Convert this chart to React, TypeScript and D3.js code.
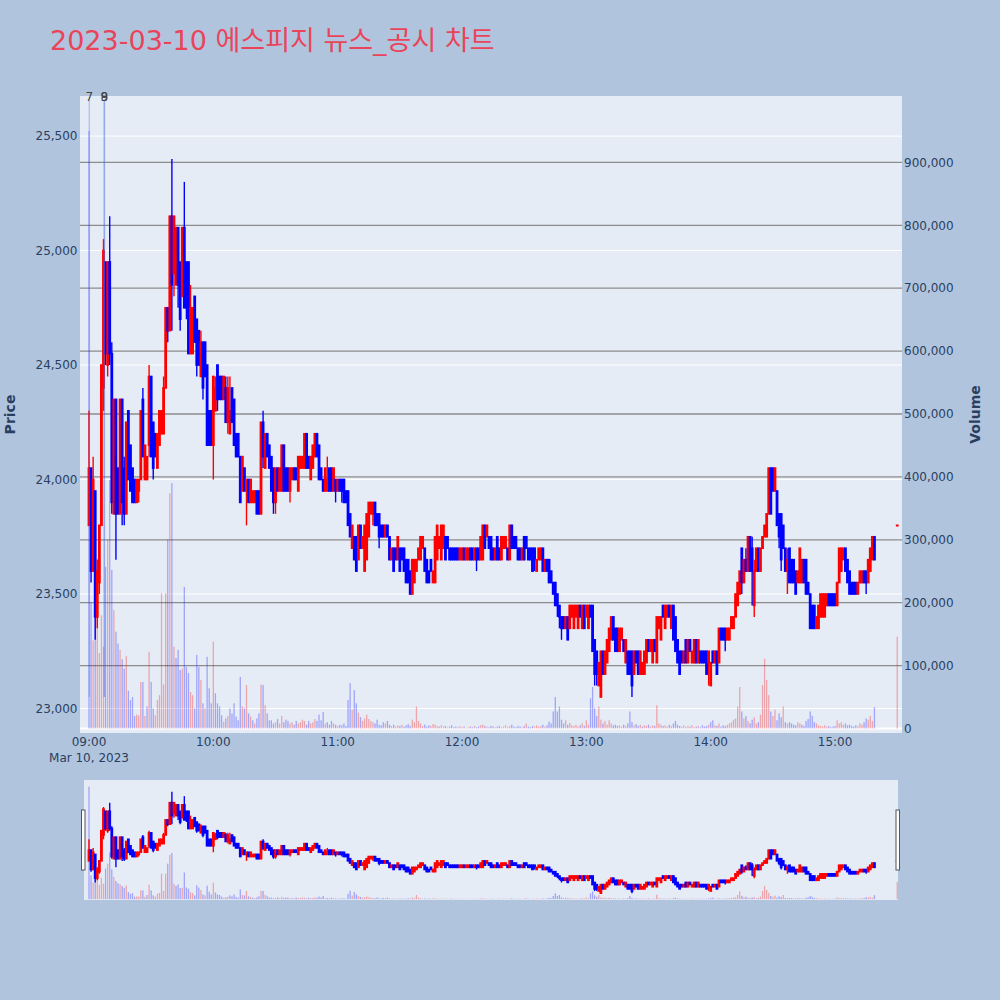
import React from "react";
import * as d3 from "d3";

// ---------- DATA (1-minute candles, 2023-03-10, 09:00 .. 15:19, plus 15:30 close) ----------
const startMinutes = d3.range(380);
const closingAuctionMinute = 390;
const candleMinutes = startMinutes.concat([closingAuctionMinute]);

const opens = [
  23800, 24050, 23600, 23950, 23400, 23550, 23800, 24400, 24950, 24500,
  24950, 24550, 23850, 24350, 24050, 23850, 24350, 24050, 23850, 24300,
  24150, 24050, 24000, 23900, 23950, 24000, 24350, 24000, 24000, 24150,
  24450, 24250, 24200, 24050, 24150, 24200, 24200, 24400, 24750, 24650,
  25150, 24900, 24850, 25100, 24950, 24800, 25100, 24950, 24950, 24550,
  24550, 24800, 24700, 24650, 24450, 24600, 24600, 24500, 24300, 24300,
  24150, 24300, 24500, 24450, 24450, 24350, 24400, 24250, 24200, 24400,
  24350, 24200, 24200, 24100, 23950, 24050, 23950, 24000, 23900, 23900,
  23900, 23950, 23950, 23850, 24250, 24050, 24200, 24150, 24100, 24050,
  23900, 24050, 23950, 23950, 24150, 24050, 24050, 23950, 24000, 24050,
  24050, 23950, 24050, 24050, 24050, 24200, 24100, 24000, 24050, 24100,
  24200, 24150, 24050, 24000, 23950, 23950, 24050, 24050, 23950, 24000,
  23950, 24000, 24000, 24000, 23950, 23950, 23850, 23700, 23750, 23750,
  23650, 23800, 23700, 23600, 23650, 23750, 23850, 23850, 23900, 23850,
  23850, 23800, 23800, 23750, 23800, 23750, 23650, 23700, 23700, 23650,
  23700, 23700, 23700, 23650, 23650, 23600, 23500, 23550, 23600, 23650,
  23650, 23700, 23700, 23650, 23600, 23650, 23550, 23550, 23650, 23700,
  23650, 23700, 23750, 23750, 23700, 23700, 23700, 23700, 23700, 23650,
  23650, 23700, 23650, 23650, 23700, 23700, 23650, 23700, 23700, 23650,
  23650, 23800, 23750, 23750, 23750, 23700, 23650, 23750, 23700, 23650,
  23700, 23700, 23700, 23650, 23800, 23750, 23750, 23700, 23700, 23650,
  23750, 23750, 23700, 23700, 23700, 23700, 23600, 23650, 23650, 23700,
  23600, 23650, 23650, 23600, 23550, 23550, 23500, 23450, 23400, 23400,
  23350, 23400, 23350, 23400, 23350, 23400, 23350, 23450, 23350, 23450,
  23400, 23350, 23450, 23450, 23300, 23250, 23100, 23050, 23250, 23150,
  23200, 23250, 23300, 23400, 23350, 23350, 23250, 23300, 23300, 23200,
  23250, 23250, 23250, 23150, 23250, 23250, 23150, 23150, 23150, 23200,
  23300, 23250, 23200, 23300, 23200, 23350, 23300, 23450, 23350, 23400,
  23450, 23350, 23450, 23400, 23300, 23250, 23250, 23200, 23300, 23200,
  23300, 23200, 23200, 23300, 23200, 23250, 23250, 23250, 23250, 23200,
  23100, 23250, 23200, 23250, 23200, 23350, 23350, 23350, 23300, 23300,
  23350, 23350, 23400, 23450, 23500, 23700, 23550, 23650, 23600, 23750,
  23700, 23450, 23600, 23700, 23600, 23700, 23750, 23750, 23850, 24050,
  24050, 23950, 23950, 23850, 23850, 23800, 23700, 23600, 23700, 23650,
  23650, 23600, 23550, 23550, 23550, 23650, 23650, 23550, 23500, 23450,
  23450, 23350, 23350, 23400, 23400, 23400, 23450, 23500, 23500, 23500,
  23500, 23450, 23550, 23600, 23650, 23700, 23650, 23600, 23550, 23550,
  23550, 23500, 23550, 23550, 23600, 23600, 23550, 23600, 23650, 23750,
  23800,
];

const highs = [
  24300, 24050, 24100, 23950, 23650, 23800, 24500, 25050, 24950, 24950,
  25150, 24600, 24350, 24350, 24050, 24350, 24350, 24100, 24250, 24300,
  24150, 24050, 24000, 24000, 24000, 24300, 24400, 24150, 24100, 24500,
  24450, 24250, 24200, 24200, 24300, 24300, 24450, 24750, 24750, 25150,
  25400, 25150, 25100, 25100, 24950, 25100, 25300, 24950, 24950, 24850,
  24750, 24800, 24700, 24650, 24650, 24600, 24600, 24500, 24300, 24300,
  24450, 24450, 24500, 24450, 24450, 24450, 24450, 24450, 24450, 24400,
  24350, 24200, 24200, 24100, 24100, 24050, 24000, 24000, 24000, 23950,
  23950, 23950, 23950, 24250, 24300, 24200, 24200, 24150, 24100, 24050,
  24050, 24050, 24050, 24150, 24150, 24050, 24050, 24050, 24050, 24050,
  24050, 24100, 24100, 24100, 24200, 24200, 24100, 24100, 24150, 24200,
  24200, 24150, 24050, 24000, 24050, 24100, 24050, 24050, 24050, 24000,
  24000, 24000, 24000, 24000, 23950, 23950, 23850, 23800, 23750, 23750,
  23800, 23800, 23750, 23800, 23850, 23900, 23900, 23900, 23900, 23850,
  23850, 23800, 23800, 23800, 23800, 23750, 23700, 23700, 23700, 23750,
  23700, 23700, 23700, 23650, 23650, 23600, 23650, 23650, 23650, 23700,
  23750, 23750, 23700, 23650, 23600, 23650, 23600, 23750, 23800, 23750,
  23800, 23800, 23750, 23750, 23700, 23700, 23700, 23700, 23700, 23700,
  23700, 23700, 23700, 23700, 23700, 23700, 23700, 23700, 23700, 23750,
  23800, 23800, 23800, 23750, 23750, 23700, 23700, 23750, 23700, 23750,
  23750, 23750, 23700, 23800, 23800, 23750, 23750, 23700, 23700, 23700,
  23750, 23750, 23700, 23700, 23700, 23700, 23650, 23700, 23700, 23700,
  23650, 23650, 23650, 23600, 23550, 23550, 23500, 23450, 23400, 23400,
  23400, 23400, 23450, 23450, 23450, 23450, 23450, 23450, 23450, 23450,
  23450, 23450, 23450, 23450, 23300, 23250, 23200, 23250, 23250, 23250,
  23300, 23350, 23400, 23400, 23350, 23350, 23350, 23350, 23300, 23300,
  23250, 23250, 23250, 23250, 23250, 23250, 23250, 23200, 23250, 23300,
  23300, 23300, 23300, 23300, 23400, 23400, 23400, 23450, 23450, 23450,
  23450, 23450, 23450, 23400, 23300, 23250, 23250, 23250, 23300, 23300,
  23300, 23250, 23300, 23300, 23300, 23250, 23250, 23250, 23250, 23250,
  23200, 23250, 23250, 23250, 23350, 23350, 23350, 23350, 23350, 23350,
  23400, 23400, 23500, 23550, 23600, 23700, 23650, 23700, 23750, 23750,
  23750, 23650, 23700, 23700, 23700, 23750, 23800, 23850, 24050, 24050,
  24050, 24050, 23950, 23850, 23850, 23800, 23700, 23700, 23700, 23650,
  23650, 23600, 23600, 23700, 23650, 23650, 23650, 23550, 23500, 23450,
  23450, 23400, 23450, 23500, 23500, 23500, 23500, 23500, 23500, 23500,
  23500, 23550, 23700, 23700, 23700, 23700, 23650, 23600, 23550, 23550,
  23550, 23550, 23600, 23600, 23600, 23600, 23650, 23700, 23750, 23750,
  23800,
];

const lows = [
  23800, 23550, 23600, 23300, 23350, 23500, 23800, 24300, 24500, 24450,
  24500, 23850, 23850, 23650, 23850, 23850, 23800, 23800, 23850, 24000,
  23950, 23900, 23900, 23900, 23900, 24000, 24100, 24000, 24000, 24100,
  24100, 24000, 24100, 24050, 24150, 24200, 24200, 24400, 24600, 24650,
  24650, 24800, 24850, 24750, 24650, 24800, 24750, 24700, 24550, 24550,
  24550, 24600, 24450, 24500, 24450, 24350, 24450, 24150, 24150, 24150,
  24000, 24300, 24300, 24350, 24350, 24350, 24250, 24200, 24200, 24250,
  24150, 24100, 24100, 23900, 23950, 23950, 23800, 23900, 23900, 23900,
  23900, 23850, 23850, 23850, 24050, 24050, 24100, 24050, 23950, 23850,
  23850, 23950, 23950, 23950, 23950, 23950, 23950, 23900, 24000, 24000,
  24000, 23950, 24050, 24050, 24050, 24050, 24050, 24000, 24050, 24100,
  24100, 24000, 24000, 23950, 23950, 23950, 23950, 23950, 23950, 23900,
  23950, 23950, 23900, 23900, 23900, 23800, 23750, 23700, 23650, 23600,
  23650, 23700, 23700, 23600, 23650, 23750, 23850, 23800, 23800, 23800,
  23700, 23750, 23750, 23750, 23750, 23650, 23650, 23600, 23650, 23650,
  23600, 23650, 23600, 23550, 23550, 23500, 23500, 23550, 23600, 23650,
  23650, 23700, 23600, 23550, 23550, 23600, 23550, 23550, 23650, 23700,
  23650, 23700, 23650, 23700, 23650, 23650, 23650, 23650, 23650, 23650,
  23650, 23650, 23650, 23650, 23650, 23650, 23650, 23600, 23650, 23650,
  23650, 23700, 23750, 23700, 23650, 23650, 23650, 23650, 23650, 23650,
  23700, 23700, 23650, 23650, 23700, 23700, 23700, 23650, 23650, 23650,
  23650, 23700, 23650, 23650, 23600, 23600, 23600, 23650, 23650, 23600,
  23600, 23600, 23550, 23550, 23500, 23450, 23400, 23350, 23300, 23350,
  23350, 23300, 23350, 23400, 23350, 23400, 23350, 23400, 23350, 23350,
  23400, 23350, 23400, 23250, 23100, 23100, 23100, 23050, 23150, 23150,
  23200, 23250, 23300, 23300, 23250, 23250, 23250, 23300, 23250, 23200,
  23150, 23150, 23050, 23150, 23200, 23150, 23150, 23150, 23150, 23200,
  23250, 23250, 23200, 23250, 23200, 23350, 23300, 23400, 23350, 23400,
  23400, 23350, 23300, 23250, 23200, 23150, 23200, 23200, 23200, 23200,
  23250, 23200, 23200, 23200, 23200, 23200, 23200, 23200, 23150, 23100,
  23100, 23200, 23200, 23150, 23200, 23300, 23300, 23250, 23300, 23300,
  23350, 23350, 23400, 23450, 23500, 23500, 23550, 23600, 23600, 23600,
  23450, 23400, 23600, 23600, 23600, 23700, 23750, 23750, 23850, 23850,
  23950, 23950, 23800, 23700, 23600, 23700, 23600, 23500, 23550, 23550,
  23550, 23500, 23550, 23550, 23550, 23550, 23500, 23500, 23350, 23350,
  23350, 23350, 23350, 23400, 23400, 23400, 23450, 23450, 23450, 23450,
  23450, 23450, 23550, 23600, 23650, 23600, 23550, 23500, 23500, 23500,
  23500, 23500, 23550, 23550, 23550, 23500, 23550, 23600, 23650, 23650,
  23800,
];

const closes = [
  24050, 23600, 24000, 23400, 23600, 23800, 24500, 25000, 24550, 24950,
  24550, 23900, 24350, 23850, 23850, 24350, 23900, 23850, 24250, 24000,
  23950, 23900, 23900, 24000, 24000, 24300, 24100, 24150, 24100, 24450,
  24100, 24050, 24100, 24200, 24300, 24300, 24400, 24750, 24650, 25150,
  24850, 25150, 25100, 24850, 24700, 25100, 24750, 24750, 24550, 24750,
  24750, 24600, 24500, 24500, 24600, 24400, 24450, 24150, 24150, 24150,
  24450, 24400, 24350, 24350, 24350, 24450, 24250, 24400, 24300, 24250,
  24150, 24100, 24100, 23900, 24100, 23950, 24000, 23900, 24000, 23950,
  23950, 23850, 23850, 24250, 24100, 24200, 24100, 24050, 23950, 23900,
  24050, 23950, 24050, 24150, 23950, 23950, 23950, 24050, 24050, 24000,
  24000, 24100, 24100, 24100, 24200, 24050, 24050, 24100, 24150, 24200,
  24100, 24000, 24000, 23950, 24050, 24000, 23950, 23950, 24050, 23950,
  24000, 23950, 23950, 23900, 23900, 23800, 23750, 23800, 23650, 23600,
  23800, 23700, 23750, 23800, 23850, 23900, 23900, 23900, 23800, 23800,
  23750, 23750, 23750, 23800, 23750, 23650, 23700, 23600, 23650, 23750,
  23600, 23650, 23600, 23550, 23550, 23500, 23650, 23650, 23650, 23700,
  23750, 23750, 23600, 23550, 23550, 23600, 23600, 23750, 23800, 23750,
  23800, 23800, 23650, 23700, 23650, 23650, 23650, 23650, 23650, 23700,
  23700, 23650, 23700, 23700, 23650, 23650, 23700, 23650, 23650, 23750,
  23800, 23700, 23800, 23700, 23650, 23650, 23700, 23650, 23650, 23750,
  23750, 23750, 23650, 23800, 23700, 23700, 23700, 23650, 23650, 23700,
  23650, 23700, 23650, 23650, 23600, 23650, 23650, 23700, 23700, 23600,
  23650, 23600, 23550, 23550, 23500, 23450, 23450, 23400, 23350, 23350,
  23400, 23300, 23450, 23450, 23450, 23450, 23450, 23400, 23450, 23350,
  23450, 23450, 23400, 23250, 23150, 23150, 23200, 23250, 23150, 23250,
  23300, 23350, 23400, 23300, 23250, 23250, 23350, 23350, 23250, 23300,
  23150, 23150, 23100, 23250, 23200, 23150, 23250, 23200, 23250, 23300,
  23250, 23300, 23300, 23250, 23400, 23400, 23400, 23400, 23450, 23450,
  23400, 23450, 23300, 23250, 23200, 23150, 23200, 23250, 23200, 23300,
  23250, 23250, 23300, 23200, 23300, 23200, 23200, 23200, 23150, 23250,
  23200, 23200, 23250, 23150, 23350, 23300, 23300, 23300, 23350, 23350,
  23400, 23400, 23500, 23550, 23600, 23550, 23650, 23600, 23750, 23600,
  23600, 23600, 23700, 23600, 23700, 23750, 23800, 23850, 24050, 23850,
  23950, 24050, 23800, 23750, 23650, 23700, 23600, 23650, 23550, 23550,
  23550, 23500, 23600, 23700, 23650, 23550, 23500, 23500, 23350, 23350,
  23350, 23400, 23450, 23500, 23500, 23500, 23500, 23450, 23450, 23450,
  23450, 23550, 23700, 23700, 23700, 23600, 23550, 23500, 23500, 23500,
  23500, 23550, 23600, 23600, 23550, 23550, 23650, 23700, 23750, 23650,
  23800,
];

// volume in thousands of shares
const volumesK = [
  950, 200, 140, 275, 270, 120, 180, 130, 257, 300,
  395, 252, 188, 154, 135, 125, 110, 95, 115, 60,
  45, 50, 20, 22, 21, 74, 74, 20, 35, 122,
  74, 32, 21, 45, 53, 215, 70, 215, 300, 374,
  390, 130, 112, 125, 93, 95, 225, 98, 88, 58,
  53, 32, 117, 98, 77, 40, 32, 114, 64, 40,
  138, 56, 40, 35, 21, 11, 16, 20, 32, 24,
  40, 19, 13, 82, 35, 32, 69, 24, 19, 13,
  8, 16, 24, 70, 69, 37, 24, 13, 13, 8,
  10, 15, 8, 20, 10, 14, 12, 8, 10, 6,
  12, 8, 10, 14, 12, 6, 12, 8, 10, 15,
  12, 22, 13, 26, 8, 10, 6, 12, 8, 6,
  4, 6, 5, 8, 4, 45, 72, 30, 61, 40,
  25, 18, 12, 16, 22, 15, 12, 10, 8, 14,
  6, 5, 10, 8, 12, 6, 4, 6, 3, 5,
  4, 6, 3, 5, 7, 4, 14, 10, 35, 12,
  8, 4, 6, 3, 5, 4, 7, 6, 4, 3,
  5, 3, 4, 2, 3, 5, 2, 3, 2, 4,
  2, 3, 1, 2, 3, 2, 4, 2, 3, 5,
  6, 4, 3, 2, 4, 3, 2, 3, 4, 2,
  3, 5, 2, 4, 6, 3, 2, 4, 3, 2,
  4, 8, 3, 2, 4, 3, 5, 3, 4, 6,
  3, 5, 11, 8, 27, 50, 27, 35, 14, 8,
  13, 6, 9, 5, 4, 6, 3, 5, 8, 4,
  13, 6, 48, 66, 32, 20, 35, 14, 8, 12,
  6, 13, 8, 5, 6, 4, 5, 3, 6, 4,
  8, 27, 10, 5, 7, 4, 6, 3, 5, 4,
  6, 3, 5, 4, 37, 8, 6, 4, 5, 3,
  6, 4, 8, 12, 6, 4, 3, 5, 2, 4,
  3, 5, 2, 3, 4, 2, 5, 3, 4, 6,
  10, 13, 5, 4, 8, 3, 5, 4, 6, 8,
  10, 14, 16, 35, 66, 27, 16, 20, 12, 8,
  14, 18, 8, 10, 22, 69, 111, 77, 53, 27,
  20, 30, 13, 24, 18, 35, 10, 8, 10, 8,
  6, 5, 10, 8, 6, 4, 12, 15, 27, 20,
  10, 8, 5, 4, 3, 5, 3, 4, 2, 3,
  4, 13, 8, 10, 6, 8, 5, 6, 4, 3,
  5, 4, 8, 6, 10, 16, 14, 20, 12, 34,
  146,
];

const priceTicks = [23000, 23500, 24000, 24500, 25000, 25500];
const volumeTicks = [0, 100000, 200000, 300000, 400000, 500000, 600000, 700000, 800000, 900000];
const timeTickLabels = ["09:00", "10:00", "11:00", "12:00", "13:00", "14:00", "15:00"];
const timeTickMinutes = [0, 60, 120, 180, 240, 300, 360];
const dateLabel = "Mar 10, 2023";

const newsLabels = ["7", "8", "9"];
const newsMinutes = [0.15, 7.4, 7.4];

const titleText = "2023-03-10 에스피지 뉴스_공시 차트";

// ---------- LAYOUT ----------
const PAPER = "#b0c4de";
const PLOT_BG = "#e5ecf6";
const INC = "#ff0000";
const DEC = "#0000ff";
const INC_VOL = "rgba(255,0,0,0.3)";
const DEC_VOL = "rgba(0,0,255,0.3)";
const TICK_COLOR = "#2a3f5f";
const FONT = "'DejaVu Sans', Verdana, 'Noto Sans CJK KR', sans-serif";

const plot = { left: 80, right: 902, top: 96, bottom: 733 };
const slider = { left: 84, right: 898, top: 780, bottom: 900 };

const xDomain: [number, number] = [-4.34, 392.3];
const priceDomain: [number, number] = [22893, 25675];
const volDomain: [number, number] = [-7200, 1005600];

function isIncreasing(i: number): boolean {
  if (closes[i] > opens[i]) return true;
  if (closes[i] < opens[i]) return false;
  return i > 0 ? closes[i] >= closes[i - 1] : true;
}

function volumeColor(i: number): string {
  if (i === 0) return DEC_VOL;
  if (closes[i] > closes[i - 1]) return INC_VOL;
  if (closes[i] < closes[i - 1]) return DEC_VOL;
  return isIncreasing(i) ? INC_VOL : DEC_VOL;
}

type Lin = d3.ScaleLinear<number, number>;

function Traces({ x, yP, yV }: { x: Lin; yP: Lin; yV: Lin }) {
  const y0 = yV(0);
  return (
    <g>
      <g>
        {candleMinutes.map((m, i) => {
          const v = volumesK[i] * 1000;
          const cx = x(m);
          const yt = yV(v);
          return (
            <rect
              key={"v" + i}
              x={cx - 0.65}
              y={yt}
              width={1.3}
              height={Math.max(0, y0 - yt)}
              fill={volumeColor(i)}
            />
          );
        })}
      </g>
      <g>
        {candleMinutes.map((m, i) => {
          const col = isIncreasing(i) ? INC : DEC;
          const cx = x(m);
          const yo = yP(opens[i]);
          const yc = yP(closes[i]);
          const top = Math.min(yo, yc);
          const h = Math.max(Math.abs(yo - yc), 0.4);
          return (
            <g key={"c" + i}>
              <line
                x1={cx}
                x2={cx}
                y1={yP(highs[i])}
                y2={yP(lows[i])}
                stroke={col}
                strokeWidth={1.4}
              />
              <rect
                x={cx - 0.6}
                y={top}
                width={1.2}
                height={h}
                fill={col}
                stroke={col}
                strokeWidth={1.6}
              />
            </g>
          );
        })}
      </g>
    </g>
  );
}

export default function App() {
  const x = d3.scaleLinear().domain(xDomain).range([plot.left, plot.right]);
  const yP = d3.scaleLinear().domain(priceDomain).range([plot.bottom, plot.top]);
  const yV = d3.scaleLinear().domain(volDomain).range([plot.bottom, plot.top]);
  const yPs = d3.scaleLinear().domain(priceDomain).range([slider.bottom, slider.top]);
  const yVs = d3.scaleLinear().domain(volDomain).range([slider.bottom, slider.top]);
  const fmt = d3.format(",");
  const midY = (plot.top + plot.bottom) / 2;

  return (
    <div style={{ position: "absolute", left: 0, top: 0, width: 1000, height: 1000 }}>
      <svg width={1000} height={1000} style={{ display: "block", fontFamily: FONT }}>
        <defs>
          <clipPath id="plotClip">
            <rect x={plot.left} y={plot.top} width={plot.right - plot.left} height={plot.bottom - plot.top} />
          </clipPath>
          <clipPath id="sliderClip">
            <rect x={slider.left} y={slider.top} width={slider.right - slider.left} height={slider.bottom - slider.top} />
          </clipPath>
        </defs>
        <rect x={0} y={0} width={1000} height={1000} fill={PAPER} />

        {/* title */}
        <text x={50} y={50} fontSize={27} fill="#e9445a" style={{ fontFamily: FONT }}>
          {titleText}
        </text>

        {/* plot background */}
        <rect
          x={plot.left}
          y={plot.top}
          width={plot.right - plot.left}
          height={plot.bottom - plot.top}
          fill={PLOT_BG}
        />

        {/* price grid (white) */}
        {priceTicks.map((p) => (
          <line
            key={"pg" + p}
            x1={plot.left}
            x2={plot.right}
            y1={yP(p)}
            y2={yP(p)}
            stroke="#ffffff"
            strokeWidth={1}
          />
        ))}
        {/* volume grid (gray) */}
        {volumeTicks
          .filter((v) => v > 0)
          .map((v) => (
            <line
              key={"vg" + v}
              x1={plot.left}
              x2={plot.right}
              y1={yV(v)}
              y2={yV(v)}
              stroke="#8c8c8c"
              strokeWidth={1.3}
            />
          ))}
        <line
          x1={plot.left}
          x2={plot.right}
          y1={yV(0)}
          y2={yV(0)}
          stroke="#ffffff"
          strokeWidth={2}
        />

        <g clipPath="url(#plotClip)">
          <Traces x={x} yP={yP} yV={yV} />
          {newsMinutes.map((m, k) => (
            <line
              key={"nl" + k}
              x1={x(m)}
              x2={x(m)}
              y1={100}
              y2={697}
              stroke="rgb(65,105,225)"
              strokeOpacity={0.3}
              strokeWidth={1.5}
            />
          ))}
        </g>

        {newsLabels.map((t, k) => (
          <text
            key={"nt" + k}
            x={x(newsMinutes[k])}
            y={100.5}
            fontSize={12}
            fill="#444"
            textAnchor="middle"
          >
            {t}
          </text>
        ))}

        {/* left ticks */}
        {priceTicks.map((p) => (
          <text
            key={"pt" + p}
            x={77.5}
            y={yP(p)}
            dy="0.35em"
            fontSize={12}
            fill={TICK_COLOR}
            textAnchor="end"
          >
            {fmt(p)}
          </text>
        ))}
        {/* right ticks */}
        {volumeTicks.map((v) => (
          <text
            key={"vt" + v}
            x={904}
            y={yV(v)}
            dy="0.35em"
            fontSize={12}
            fill={TICK_COLOR}
            textAnchor="start"
          >
            {fmt(v)}
          </text>
        ))}
        {/* x ticks */}
        {timeTickMinutes.map((m, k) => (
          <text
            key={"xt" + m}
            x={x(m)}
            y={746}
            fontSize={12}
            fill={TICK_COLOR}
            textAnchor="middle"
          >
            {timeTickLabels[k]}
          </text>
        ))}
        <text x={x(0)} y={761.5} fontSize={12} fill={TICK_COLOR} textAnchor="middle">
          {dateLabel}
        </text>

        {/* axis titles */}
        <text
          transform={`translate(10,${midY}) rotate(-90)`}
          fontSize={14}
          fontWeight="bold"
          fill={TICK_COLOR}
          textAnchor="middle"
          dy="0.35em"
        >
          Price
        </text>
        <text
          transform={`translate(975,${midY}) rotate(-90)`}
          fontSize={14}
          fontWeight="bold"
          fill={TICK_COLOR}
          textAnchor="middle"
          dy="0.35em"
        >
          Volume
        </text>

        {/* range slider */}
        <rect
          x={slider.left}
          y={slider.top}
          width={slider.right - slider.left}
          height={slider.bottom - slider.top}
          fill={PLOT_BG}
        />
        <g clipPath="url(#sliderClip)">
          <Traces x={x} yP={yPs} yV={yVs} />
        </g>
        <rect x={81.5} y={810} width={3.5} height={60} fill="#ffffff" stroke="#555" strokeWidth={1} />
        <rect x={896} y={810} width={3.5} height={60} fill="#ffffff" stroke="#555" strokeWidth={1} />
      </svg>
    </div>
  );
}
